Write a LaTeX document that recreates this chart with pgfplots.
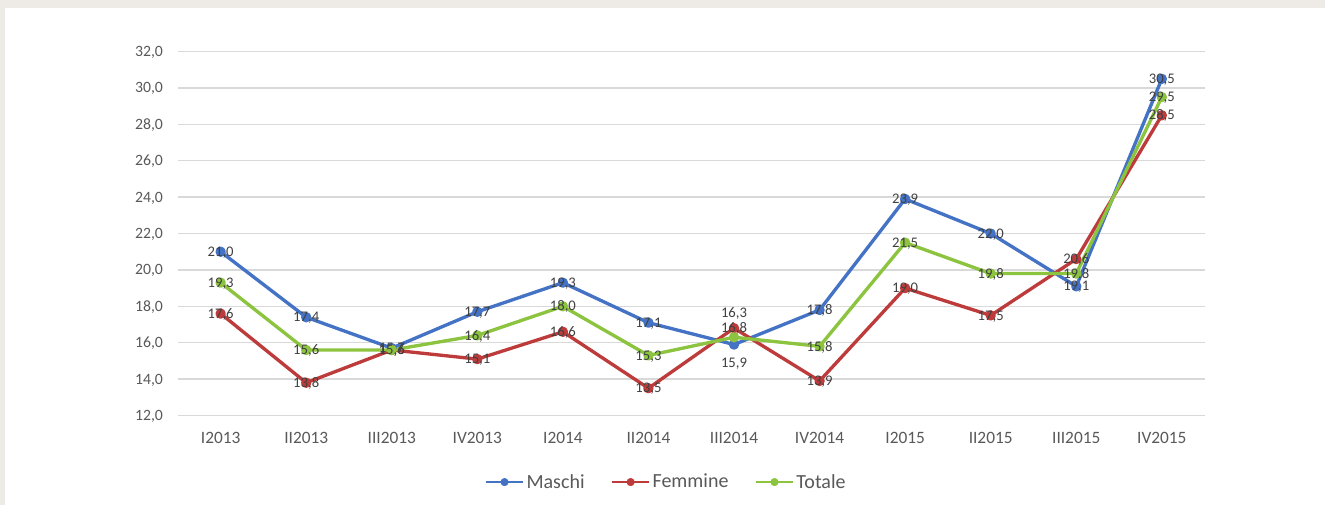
\documentclass[border=0pt]{standalone}
\usepackage{pgfplots}
\pgfplotsset{compat=1.18}
\usepackage{pgfplotstable}
\usepackage{fontspec}
\setmainfont{Carlito}
\definecolor{cM}{HTML}{4472C4}
\definecolor{cF}{HTML}{BE3B3B}
\definecolor{cT}{HTML}{8CC43F}
\definecolor{beige}{HTML}{EEEAE5}
\definecolor{gridgray}{HTML}{D9D9D9}
\definecolor{ticktext}{HTML}{595959}
\definecolor{labtext}{HTML}{404040}
\pgfplotstableread{
x M F T dM dF dT
0 21.0 17.6 19.3 0 0 0
1 17.4 13.8 15.6 0 0 0
2 15.7 15.6 15.6 0 0 0
3 17.7 15.1 16.4 0 0 0
4 19.3 16.6 18.0 0 0 0
5 17.1 13.5 15.3 0 0 0
6 15.9 16.8 16.3 -13.5 0 18
7 17.8 13.9 15.8 0 0 0
8 23.9 19.0 21.5 0 0 0
9 22.0 17.5 19.8 0 0 0
10 19.1 20.6 19.8 0 0 0
11 30.5 28.5 29.5 0 0 0
}\datatab
\begin{document}
\begin{tikzpicture}
\fill[beige] (-133.4pt,-67.1pt) rectangle (860.3pt,311.6pt);
\fill[white] (-129.7pt,-67.1pt) rectangle (860.3pt,305.6pt);
\path[use as bounding box] (-133.4pt,-67.1pt) rectangle (860.3pt,311.6pt);
\begin{axis}[
  at={(0,0)}, anchor=south west,
  scale only axis, width=770pt, height=272.9pt,
  xmin=-0.5, xmax=11.5, ymin=12, ymax=32,
  xtick={0,...,11},
  xticklabels={I2013,II2013,III2013,IV2013,I2014,II2014,III2014,IV2014,I2015,II2015,III2015,IV2015},
  ytick={12,14,...,32},
  axis line style={draw=none},
  major tick length=0pt,
  ymajorgrids,
  major grid style={color=gridgray, line width=1pt},
  /pgf/number format/fixed,
  /pgf/number format/fixed zerofill,
  /pgf/number format/precision=1,
  /pgf/number format/use comma,
  /pgf/number format/assume math mode=true,
  yticklabel style={font=\fontsize{11.8}{13}\selectfont, text=ticktext, anchor=base east, inner sep=0pt, xshift=-11pt, yshift=-3.7pt},
  xticklabel style={font=\fontsize{13}{15}\selectfont, text=ticktext, anchor=base, inner sep=0pt, yshift=-21pt},
  every axis plot/.append style={line width=2.5pt, line join=round, mark=*, mark size=2.6pt, mark options={solid}},
  nodes near coords,
  every node near coord/.append style={font=\fontsize{11}{13}\selectfont, text=labtext, anchor=base, inner sep=0pt, yshift={(\dy-3.5)*1pt}},
  legend style={at={(rel axis cs:0.4755,-0.183)}, anchor=center, draw=none, fill=none,
     font=\fontsize{15}{17}\selectfont, text=ticktext, legend columns=-1, inner sep=0pt,
     nodes={inner xsep=1.5pt, inner ysep=0pt},
     /tikz/every even column/.append style={column sep=18pt}},
  legend image code/.code={\draw[mark repeat=2,mark phase=2, line width=2pt, mark size=2pt] plot coordinates {(0pt,0pt) (14pt,0pt) (28pt,0pt)};},
]
\addplot[color=cM, visualization depends on={\thisrow{dM} \as \dy}] table[x=x,y=M] {\datatab};
\addlegendentry{Maschi}
\addplot[color=cF, visualization depends on={\thisrow{dF} \as \dy}] table[x=x,y=F] {\datatab};
\addlegendentry{Femmine}
\addplot[color=cT, visualization depends on={\thisrow{dT} \as \dy}] table[x=x,y=T] {\datatab};
\addlegendentry{Totale}
\end{axis}
\end{tikzpicture}
\end{document}
